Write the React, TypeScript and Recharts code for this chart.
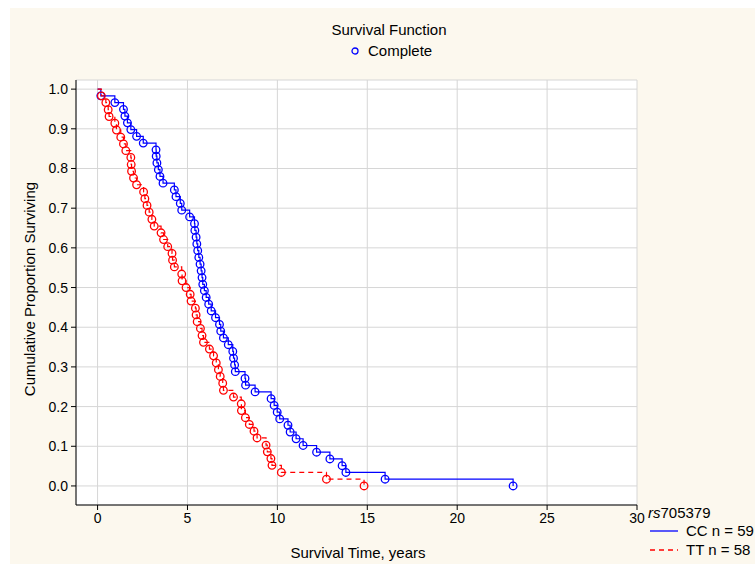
import React from "react";
import { LineChart, Line, XAxis, YAxis, CartesianGrid } from "recharts";

// event times (years) and survival after each event
const ccTimes = [
  0, 0.18, 0.96, 1.44, 1.52, 1.66, 1.85, 2.17, 2.54, 3.25, 3.26, 3.3, 3.38, 3.47, 3.64,
  4.27, 4.36, 4.6, 4.68, 5.12, 5.39, 5.41, 5.48, 5.52, 5.57, 5.63, 5.7, 5.76, 5.81, 5.85,
  5.94, 6.04, 6.18, 6.32, 6.56, 6.78, 6.85, 7.0, 7.27, 7.52, 7.56, 7.62, 7.66, 8.2, 8.23,
  8.76, 9.65, 9.82, 9.99, 10.13, 10.59, 10.71, 11.04, 11.43, 12.18, 12.92, 13.6, 13.81,
  15.99, 23.11,
];
const ccSurv = [
  1, 0.983, 0.966, 0.949, 0.932, 0.915, 0.898, 0.881, 0.864, 0.847, 0.831, 0.814, 0.797,
  0.78, 0.763, 0.746, 0.729, 0.712, 0.695, 0.678, 0.661, 0.644, 0.627, 0.61, 0.593, 0.576,
  0.559, 0.542, 0.525, 0.508, 0.492, 0.475, 0.458, 0.441, 0.424, 0.407, 0.39, 0.373, 0.356,
  0.339, 0.322, 0.305, 0.288, 0.271, 0.254, 0.237, 0.22, 0.203, 0.186, 0.169, 0.153, 0.136,
  0.119, 0.102, 0.085, 0.068, 0.051, 0.034, 0.017, 0,
];

const ttTimes = [
  0, 0.21, 0.46, 0.59, 0.64, 0.96, 1.05, 1.29, 1.44, 1.57, 1.85, 1.87, 1.89, 2.0, 2.17,
  2.56, 2.63, 2.75, 2.87, 3.02, 3.15, 3.53, 3.67, 3.9, 4.14, 4.17, 4.27, 4.68, 4.7, 4.92,
  5.15, 5.2, 5.44, 5.48, 5.54, 5.72, 5.81, 5.89, 6.22, 6.45, 6.6, 6.72, 6.82, 6.96, 7.0,
  7.56, 7.99, 8.0, 8.22, 8.44, 8.7, 8.87, 9.37, 9.44, 9.64, 9.7, 10.22, 12.73, 14.82,
];
const ttSurv = [
  1, 0.983, 0.966, 0.948, 0.931, 0.914, 0.897, 0.879, 0.862, 0.845, 0.828, 0.81, 0.793,
  0.776, 0.759, 0.741, 0.724, 0.707, 0.69, 0.672, 0.655, 0.638, 0.621, 0.603, 0.586, 0.569,
  0.552, 0.534, 0.517, 0.5, 0.483, 0.466, 0.448, 0.431, 0.414, 0.397, 0.379, 0.362, 0.345,
  0.328, 0.31, 0.293, 0.276, 0.259, 0.241, 0.224, 0.207, 0.19, 0.172, 0.155, 0.138, 0.121,
  0.103, 0.086, 0.069, 0.052, 0.034, 0.017, 0,
];

const xTicks = [0, 5, 10, 15, 20, 25, 30];
const yTicks = [0, 0.1, 0.2, 0.3, 0.4, 0.5, 0.6, 0.7, 0.8, 0.9, 1.0];

const toRows = (times: number[], surv: number[]) =>
  times.map((t, i) => ({ t, s: surv[i] }));

const ccData = toRows(ccTimes, ccSurv);
const ttData = toRows(ttTimes, ttSurv);

const FONT = "'Liberation Sans', Arial, sans-serif";

const makeDot = (color: string) => (props: any) => {
  const { cx, cy, index } = props;
  if (index === 0) return <g key={`d${index}`} />;
  return (
    <circle
      key={`d${index}`}
      cx={cx}
      cy={cy}
      r={3.8}
      fill="none"
      stroke={color}
      strokeWidth={1.3}
    />
  );
};

export default function App() {
  return (
    <div
      style={{
        position: "fixed",
        left: 10,
        top: 8,
        width: 745,
        height: 556,
        background: "#fcf8ee",
        fontFamily: FONT,
        color: "#000",
      }}
    >
      <LineChart
        width={745}
        height={556}
        margin={{ top: 72, right: 118, left: 0, bottom: 0 }}
      >
        <CartesianGrid stroke="#d6d6d6" fill="#ffffff" />
        <XAxis
          dataKey="t"
          type="number"
          domain={[-1.2, 30]}
          ticks={xTicks}
          height={59}
          stroke="#000"
          tickSize={5}
          tickMargin={3}
          tick={{ fill: "#000", fontSize: 14, fontFamily: FONT }}
          allowDataOverflow
        />
        <XAxis
          xAxisId="top"
          orientation="top"
          type="number"
          domain={[-1.2, 30]}
          ticks={xTicks}
          height={0}
          mirror
          tick={false}
          tickSize={5}
          stroke="#000"
          allowDataOverflow
        />
        <YAxis
          type="number"
          domain={[-0.048, 1.023]}
          ticks={yTicks}
          width={66}
          stroke="#000"
          tickSize={5}
          tickMargin={3}
          tickFormatter={(v: number) => v.toFixed(1)}
          tick={{ fill: "#000", fontSize: 14, fontFamily: FONT }}
          allowDataOverflow
        />
        <YAxis
          yAxisId="right"
          orientation="right"
          type="number"
          domain={[-0.048, 1.023]}
          ticks={yTicks}
          width={0}
          mirror
          tick={false}
          tickSize={5}
          stroke="#000"
          allowDataOverflow
        />
        <Line
          data={ccData}
          dataKey="s"
          type="stepAfter"
          stroke="#0000ff"
          strokeWidth={1.2}
          dot={makeDot("#0000ff")}
          activeDot={false}
          isAnimationActive={false}
        />
        <Line
          data={ttData}
          dataKey="s"
          type="stepAfter"
          stroke="#ff0000"
          strokeWidth={1.2}
          strokeDasharray="5 4"
          dot={makeDot("#ff0000")}
          activeDot={false}
          isAnimationActive={false}
        />
      </LineChart>

      {/* title and top legend */}
      <div
        style={{
          position: "absolute",
          left: 379,
          top: 13,
          transform: "translateX(-50%)",
          fontSize: 15,
          lineHeight: "18px",
          whiteSpace: "nowrap",
        }}
      >
        Survival Function
      </div>
      <div
        style={{
          position: "absolute",
          left: 340,
          top: 34,
          display: "flex",
          alignItems: "center",
          fontSize: 15,
          lineHeight: "18px",
          whiteSpace: "nowrap",
        }}
      >
        <svg width={10} height={10} style={{ marginRight: 8 }}>
          <circle cx={5} cy={5} r={3} fill="none" stroke="#0000ff" strokeWidth={1.3} />
        </svg>
        Complete
      </div>

      {/* axis titles */}
      <div
        style={{
          position: "absolute",
          left: 19,
          top: 281,
          transform: "translate(-50%, -50%) rotate(-90deg)",
          fontSize: 15,
          whiteSpace: "nowrap",
        }}
      >
        Cumulative Proportion Surviving
      </div>
      <div
        style={{
          position: "absolute",
          left: 348,
          top: 544,
          transform: "translate(-50%, -50%)",
          fontSize: 15,
          whiteSpace: "nowrap",
        }}
      >
        Survival Time, years
      </div>

      {/* group legend */}
      <div
        style={{
          position: "absolute",
          left: 638,
          top: 496,
          fontSize: 15,
          lineHeight: "18px",
          whiteSpace: "nowrap",
        }}
      >
        <i>rs</i>705379
      </div>
      <div
        style={{
          position: "absolute",
          left: 640,
          top: 514,
          display: "flex",
          alignItems: "center",
          fontSize: 15,
          lineHeight: "18px",
          whiteSpace: "nowrap",
        }}
      >
        <svg width={28} height={4} style={{ marginRight: 8 }}>
          <line x1={0} y1={2} x2={28} y2={2} stroke="#0000ff" strokeWidth={1.3} />
        </svg>
        CC n = 59
      </div>
      <div
        style={{
          position: "absolute",
          left: 640,
          top: 533,
          display: "flex",
          alignItems: "center",
          fontSize: 15,
          lineHeight: "18px",
          whiteSpace: "nowrap",
        }}
      >
        <svg width={28} height={4} style={{ marginRight: 8 }}>
          <line
            x1={0}
            y1={2}
            x2={28}
            y2={2}
            stroke="#ff0000"
            strokeWidth={1.3}
            strokeDasharray="5 4"
          />
        </svg>
        TT n = 58
      </div>
    </div>
  );
}
